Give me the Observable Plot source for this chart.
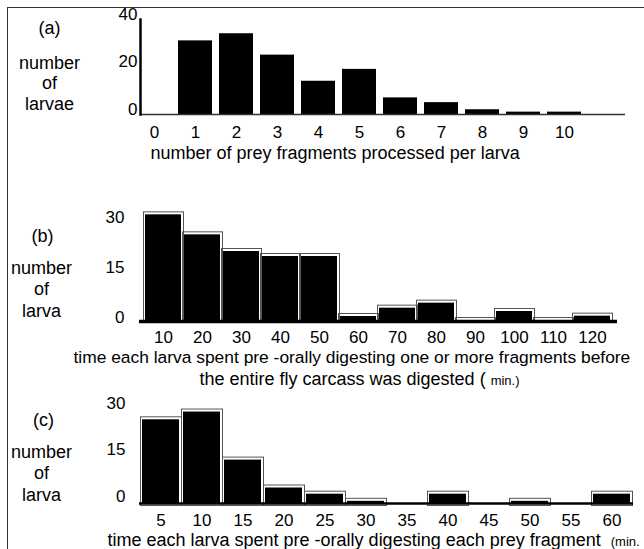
<!DOCTYPE html>
<html>
<head>
<meta charset="utf-8">
<script src="https://cdn.jsdelivr.net/npm/d3@7"></script>
<script src="https://cdn.jsdelivr.net/npm/@observablehq/plot@0.6"></script>
<style>
  body { margin: 0; background: white; }
  #wrap { position: relative; width: 644px; height: 549px; overflow: hidden; font-family: "Liberation Sans", Arial, sans-serif; }
  #border { position: absolute; left: 7px; top: 7px; width: 640px; height: 545px; border-left: 1px solid #333; border-top: 1px solid #333; }
  .panel { position: absolute; left: 0; }
</style>
</head>
<body>
<div id="wrap"><div id="border"></div></div>
<script>
// ---- data ----
const catsA = ["0","1","2","3","4","5","6","7","8","9","10"];
const valsA = [0, 31, 34, 25, 14, 19, 7, 5, 2, 1, 1];
const ticksA = [0, 20, 40];

const catsB = ["10","20","30","40","50","60","70","80","90","100","110","120"];
const valsB = [32, 26, 21, 19.5, 19.5, 1.5, 4, 5.5, 0.3, 3, 0.3, 1.6];
const ticksB = [0, 15, 30];

const catsC = ["5","10","15","20","25","30","35","40","45","50","55","60"];
const valsC = [27, 29.5, 14, 5, 3, 0.7, 0, 3, 0, 0.7, 0, 3];
const ticksC = [0, 15, 30];

const titleA = "number of prey fragments processed per larva";
const titleB1 = "time each larva spent pre -orally digesting one or more fragments before";
const titleB2 = "the entire fly carcass was digested ( ";
const titleC = "time each larva spent pre -orally digesting each prey fragment  ";
const unitB = "min.)";
const unitC = "(min.";

const font = "'Liberation Sans', Arial, sans-serif";
const wrap = document.getElementById("wrap");

function table(cats, vals) { return cats.map((c, i) => ({cat: c, n: vals[i]})); }

function place(svg, top) {
  svg.classList.add("panel");
  svg.style.top = top + "px";
  wrap.appendChild(svg);
  return svg;
}

function addUnit(svg, mainText, unit) {
  d3.select(svg).selectAll("text")
    .filter(function () { return this.textContent === mainText; })
    .each(function () {
      const t = d3.select(this);
      const main = this.textContent;
      t.text(null);
      t.append("tspan").text(main);
      t.append("tspan").attr("font-size", 13).text(unit);
    });
}

// ---- panel (a) ----
const dataA = table(catsA, valsA);
const pa = Plot.plot({
  width: 644, height: 170,
  marginLeft: 140, marginRight: 19, marginTop: 19, marginBottom: 56,
  style: {fontFamily: font, fontSize: "17px", background: "transparent", overflow: "visible", color: "black"},
  x: {type: "band", domain: catsA, range: [128.7, 589.6], padding: 0.165},
  y: {domain: [0, 40]},
  marks: [
    Plot.barY(dataA, {x: "cat", y: "n", fill: "black"}),
    Plot.ruleY([0], {stroke: "#333", strokeWidth: 1.6}),
    Plot.frame({anchor: "left", stroke: "black", strokeWidth: 2.5}),
    Plot.axisY({ticks: ticksA, tickSize: 0, tickPadding: 3, dy: -5, fontSize: 17, label: null}),
    Plot.axisX({tickSize: 0, tickPadding: 11, fontSize: 17, label: null}),
    Plot.text(["(a)"], {frameAnchor: "top-left", dx: -91, dy: 9, fontSize: 18, textAnchor: "middle", lineAnchor: "middle"}),
    Plot.text(["number\nof\nlarvae"], {frameAnchor: "top-left", dx: -91, dy: 63, fontSize: 18, lineHeight: 1.14, textAnchor: "middle", lineAnchor: "middle"}),
    Plot.text([titleA], {frameAnchor: "bottom-left", dx: 10, dy: 39, fontSize: 18, textAnchor: "start", lineAnchor: "middle"})
  ]
});
place(pa, 0);

// ---- panel (b) ----
const dataB = table(catsB, valsB);
const pb = Plot.plot({
  width: 644, height: 190,
  marginLeft: 139, marginRight: 27, marginTop: 51, marginBottom: 39,
  style: {fontFamily: font, fontSize: "17px", background: "transparent", overflow: "visible", color: "black"},
  x: {type: "band", domain: catsB, range: [137.5, 616.4], padding: 0.08},
  y: {domain: [0, 30]},
  marks: [
    Plot.barY(dataB.filter(d => d.n > 0), {x: "cat", y: "n", fill: "none", stroke: "#555", strokeWidth: 1, insetLeft: -1.5, insetRight: -2.5, insetTop: -2.5}),
    Plot.barY(dataB, {x: "cat", y: "n", fill: "black"}),
    Plot.ruleY([0], {stroke: "black", strokeWidth: 3.5}),
    Plot.axisY({ticks: ticksB, tickSize: 0, tickPadding: 15, dy: -4, fontSize: 17, label: null}),
    Plot.axisX({tickSize: 0, tickPadding: 9, fontSize: 17, label: null}),
    Plot.text(["(b)"], {frameAnchor: "top-left", dx: -97, dy: 15, fontSize: 18, textAnchor: "middle", lineAnchor: "middle"}),
    Plot.text(["number\nof\nlarva"], {frameAnchor: "top-left", dx: -98, dy: 67, fontSize: 18, lineHeight: 1.2, textAnchor: "middle", lineAnchor: "middle"}),
    Plot.text([titleB1], {frameAnchor: "bottom-left", dx: -66, dy: 36, fontSize: 17.4, textAnchor: "start", lineAnchor: "middle"}),
    Plot.text([titleB2], {frameAnchor: "bottom-left", dx: 60, dy: 58, fontSize: 18, textAnchor: "start", lineAnchor: "middle"})
  ]
});
place(pb, 170);
addUnit(pb, titleB2, unitB);

// ---- panel (c) ----
const dataC = table(catsC, valsC);
const pc = Plot.plot({
  width: 644, height: 189,
  marginLeft: 139, marginRight: 11, marginTop: 50, marginBottom: 46,
  style: {fontFamily: font, fontSize: "17px", background: "transparent", overflow: "visible", color: "black"},
  x: {type: "band", domain: catsC, range: [137.25, 635.25], padding: 0.1},
  y: {domain: [0, 30]},
  marks: [
    Plot.barY(dataC.filter(d => d.n > 0), {x: "cat", y: "n", fill: "none", stroke: "#555", strokeWidth: 1, insetLeft: -1.5, insetRight: -2.5, insetTop: -2.5, insetBottom: -2.5}),
    Plot.barY(dataC, {x: "cat", y: "n", fill: "black"}),
    Plot.ruleY([0], {stroke: "black", strokeWidth: 2.5}),
    Plot.axisY({ticks: ticksC, tickSize: 0, tickPadding: 14, dy: -7, fontSize: 17, label: null}),
    Plot.axisX({tickSize: 0, tickPadding: 10, fontSize: 17, label: null}),
    Plot.text(["(c)"], {frameAnchor: "top-left", dx: -96, dy: 10, fontSize: 18, textAnchor: "middle", lineAnchor: "middle"}),
    Plot.text(["number\nof\nlarva"], {frameAnchor: "top-left", dx: -98, dy: 62, fontSize: 18, lineHeight: 1.2, textAnchor: "middle", lineAnchor: "middle"}),
    Plot.text([titleC], {frameAnchor: "bottom-left", dx: -32, dy: 37, fontSize: 18, textAnchor: "start", lineAnchor: "middle"})
  ]
});
place(pc, 360);
addUnit(pc, titleC, unitC);
</script>
</body>
</html>
